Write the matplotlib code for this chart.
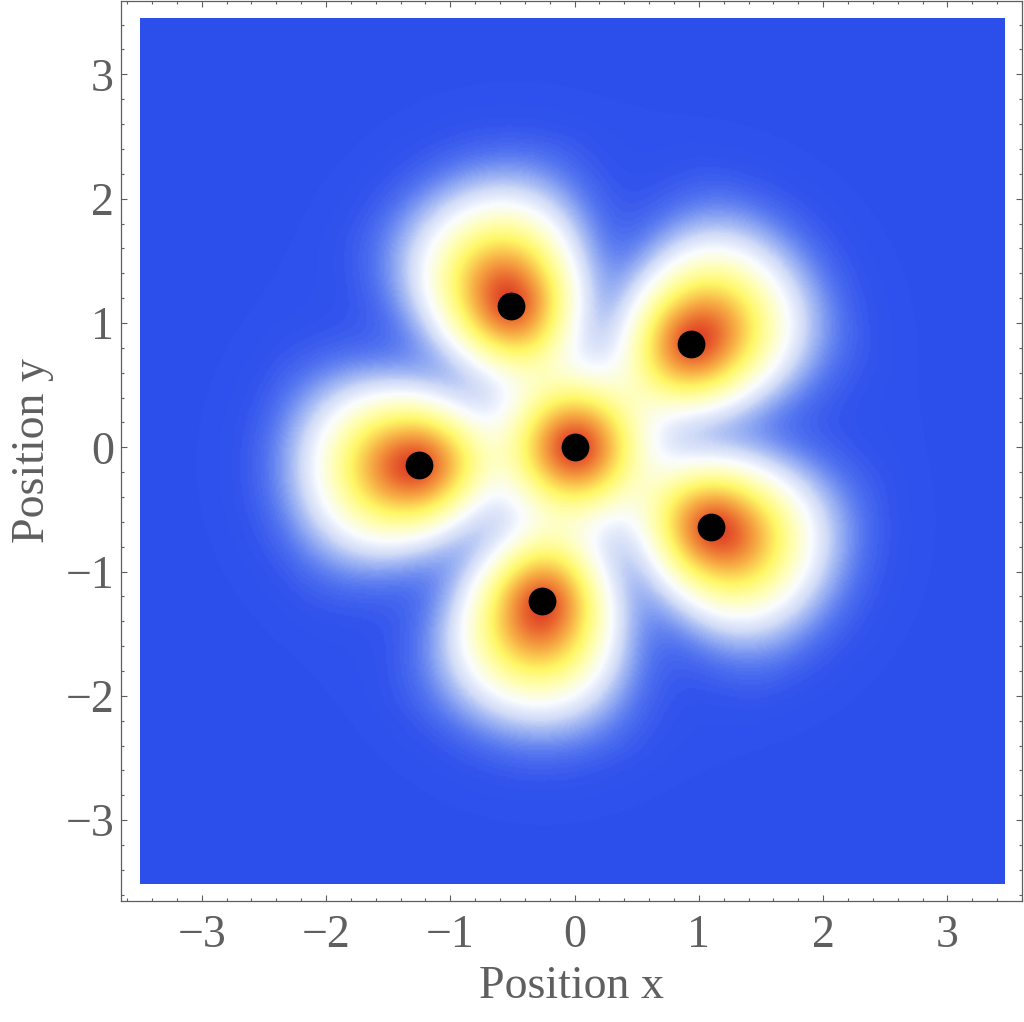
import numpy as np
import matplotlib
matplotlib.use('Agg')
import matplotlib.pyplot as plt
from matplotlib.colors import LinearSegmentedColormap
from matplotlib.ticker import MultipleLocator

# positions of the particles
px = [0.0, -0.51, 0.94, -1.25, 1.10, -0.26]
py = [0.0, 1.14, 0.83, -0.14, -0.64, -1.24]
# lobe sizes: outward, inward, sideways, and shift of the lobe outward
l_out = [0.40, 0.56, 0.56, 0.56, 0.56, 0.56]
l_in = [0.40, 0.44, 0.44, 0.44, 0.44, 0.44]
l_side = [0.40, 0.41, 0.41, 0.41, 0.41, 0.41]
taper = [0.0, 0.3, 0.3, 0.3, 0.3, 0.3]
shift = [0.0, 0.05, 0.05, 0.05, 0.05, 0.05]

grid_x = np.linspace(-3.5, 3.46, 500)
grid_y = np.linspace(-3.51, 3.45, 500)

GRAY = '#5f5f5f'

plt.rcParams['font.family'] = ['Liberation Serif', 'DejaVu Serif']

# цветовая карта в духе TemperatureMap
cmap = LinearSegmentedColormap.from_list('temp', [
    (0.00, (0.176, 0.310, 0.925)),
    (0.012, (0.20, 0.33, 0.93)),
    (0.035, (0.32, 0.45, 0.94)),
    (0.07, (0.56, 0.66, 0.95)),
    (0.115, (0.82, 0.86, 0.97)),
    (0.18, (0.98, 0.99, 1.00)),
    (0.28, (1.00, 1.00, 0.72)),
    (0.42, (1.00, 0.97, 0.40)),
    (0.62, (0.97, 0.68, 0.27)),
    (0.82, (0.92, 0.42, 0.19)),
    (1.00, (0.86, 0.22, 0.14)),
])

X, Y = np.meshgrid(grid_x, grid_y)
Z = np.zeros_like(X)
for x0, y0, lo, li, ls, tp, sh in zip(px, py, l_out, l_in, l_side, taper, shift):
    r0 = np.hypot(x0, y0)
    if r0 > 0:
        ux, uy = x0 / r0, y0 / r0
    else:
        ux, uy = 1.0, 0.0
    cx, cy = x0 + sh * ux, y0 + sh * uy
    dr = (X - cx) * ux + (Y - cy) * uy
    dt = -(X - cx) * uy + (Y - cy) * ux
    lr = np.where(dr > 0, lo, li)
    # капля: уже к центру, шире наружу
    lt = ls * np.exp(tp * np.clip(dr, -1.0, 1.0))
    reff = np.sqrt((dr / lr)**2 + (dt / lt)**2)
    Z += np.exp(-reff**1.6)
# слабый фон вокруг центра
Z += 0.012 * np.exp(-(X**2 + Y**2) / (2 * 1.6**2))
Z = Z / Z.max()

fig = plt.figure(figsize=(10.24, 10.22), dpi=100)
ax = fig.add_axes([121 / 1024, 121 / 1022, 901 / 1024, 900 / 1022])

ax.imshow(Z, origin='lower', extent=(grid_x[0], grid_x[-1], grid_y[0], grid_y[-1]),
          cmap=cmap, vmin=0, vmax=1, interpolation='bilinear', aspect='auto')
ax.plot(px, py, 'o', color='black', markersize=20, markeredgewidth=0)

ax.set_xlim(-3.65, 3.60)
ax.set_ylim(-3.65, 3.59)

ax.xaxis.set_major_locator(MultipleLocator(1))
ax.yaxis.set_major_locator(MultipleLocator(1))
ax.xaxis.set_minor_locator(MultipleLocator(0.2))
ax.yaxis.set_minor_locator(MultipleLocator(0.2))
ax.tick_params(which='both', direction='in', top=True, right=True,
               color=GRAY, width=0.8, labelcolor=GRAY, labelsize=33)
ax.tick_params(which='major', length=4.5)
ax.tick_params(which='minor', length=2.2)
ax.tick_params(axis='x', pad=10)
ax.tick_params(axis='y', pad=5)
for sp in ax.spines.values():
    sp.set_color(GRAY)
    sp.set_linewidth(0.9)

ax.set_xlabel('Position x', fontsize=33, color=GRAY, labelpad=6)
ax.set_ylabel('Position y', fontsize=33, color=GRAY, labelpad=8)

fig.savefig('out.png', dpi=100)
